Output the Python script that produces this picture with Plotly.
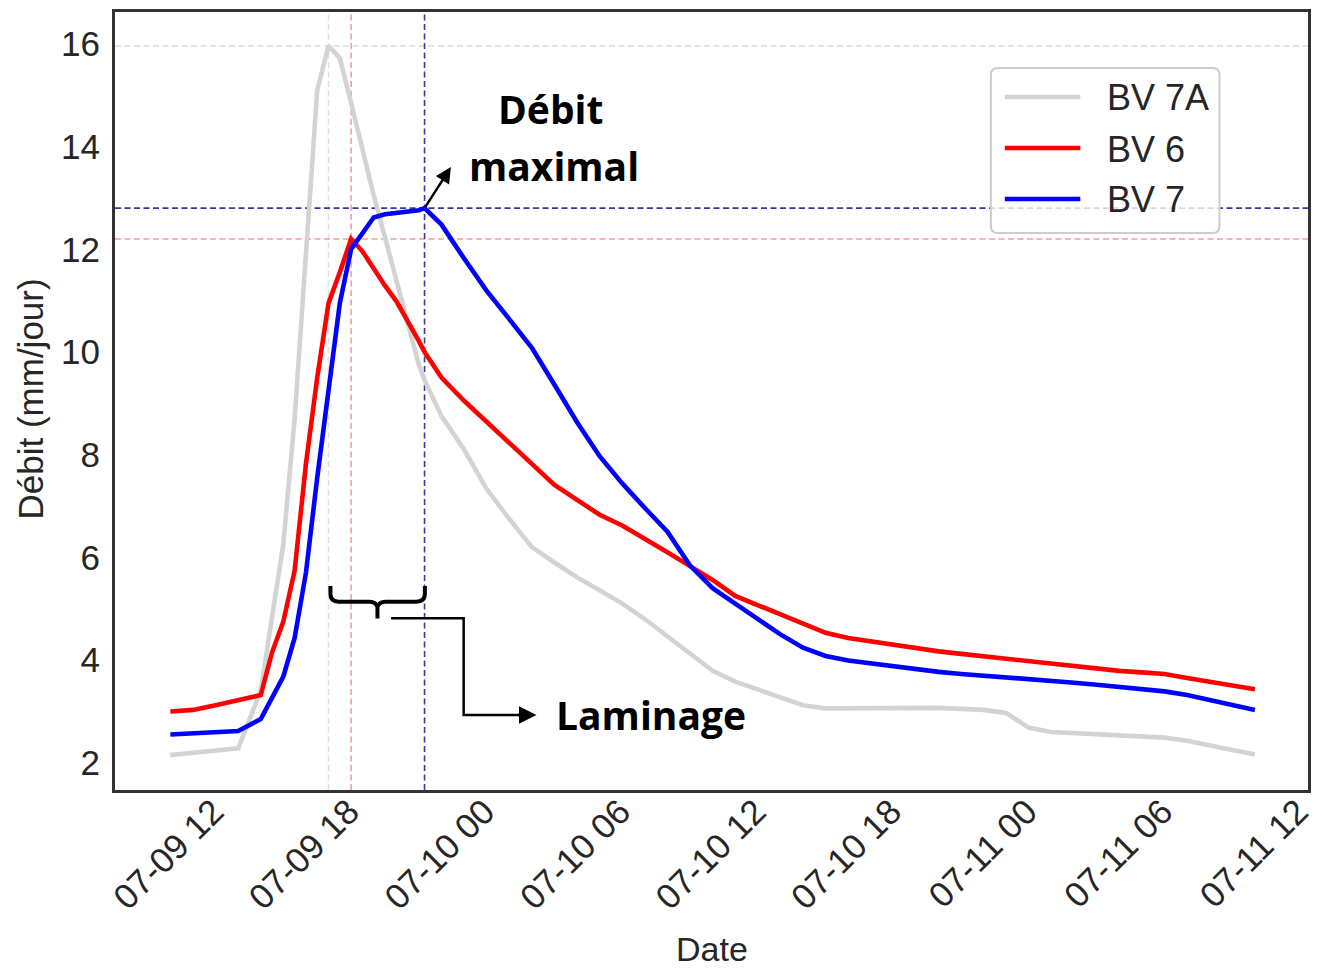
import plotly.graph_objects as go

# Discharge readings: hourly, half-hourly around the flood peak,
# plus the 23:15 reading at the BV 7 maximum
times = [
    "2021-07-09 12:00", "2021-07-09 13:00", "2021-07-09 14:00", "2021-07-09 15:00",
    "2021-07-09 16:00", "2021-07-09 16:30", "2021-07-09 17:00", "2021-07-09 17:30",
    "2021-07-09 18:00", "2021-07-09 18:30", "2021-07-09 19:00", "2021-07-09 19:30",
    "2021-07-09 20:00", "2021-07-09 20:30", "2021-07-09 21:00", "2021-07-09 21:30",
    "2021-07-09 22:00", "2021-07-09 22:30", "2021-07-09 23:00", "2021-07-09 23:15",
    "2021-07-10 00:00", "2021-07-10 01:00", "2021-07-10 02:00", "2021-07-10 03:00",
    "2021-07-10 04:00", "2021-07-10 05:00", "2021-07-10 06:00", "2021-07-10 07:00",
    "2021-07-10 08:00", "2021-07-10 09:00", "2021-07-10 10:00", "2021-07-10 11:00",
    "2021-07-10 12:00", "2021-07-10 13:00", "2021-07-10 14:00", "2021-07-10 15:00",
    "2021-07-10 16:00", "2021-07-10 17:00", "2021-07-10 18:00", "2021-07-10 19:00",
    "2021-07-10 20:00", "2021-07-10 21:00", "2021-07-10 22:00", "2021-07-10 23:00",
    "2021-07-11 00:00", "2021-07-11 01:00", "2021-07-11 02:00", "2021-07-11 03:00",
    "2021-07-11 04:00", "2021-07-11 05:00", "2021-07-11 06:00", "2021-07-11 07:00",
    "2021-07-11 08:00", "2021-07-11 09:00", "2021-07-11 10:00", "2021-07-11 11:00",
    "2021-07-11 12:00",
]

bv7a = [2.15, 2.19, 2.23, 2.28,
        3.40, 4.84, 6.26, 8.70, 12.00, 15.10, 15.96, 15.72,
        14.85, 13.93, 13.05, 12.23, 11.40, 10.50, 9.75, 9.45,
        8.75, 8.10, 7.33, 6.75, 6.20, 5.90, 5.61, 5.36,
        5.10, 4.80, 4.46, 4.13, 3.79, 3.58, 3.43, 3.28,
        3.12, 3.06, 3.06, 3.07, 3.08, 3.08, 3.07, 3.05,
        3.03, 2.97, 2.68, 2.60, 2.58, 2.56, 2.54, 2.52,
        2.49, 2.43, 2.35, 2.25, 2.16]

bv6 = [3.00, 3.03, 3.12, 3.22,
       3.32, 4.15, 4.75, 5.74, 7.82, 9.50, 10.95, 11.55,
       12.20, 11.96, 11.61, 11.29, 10.99, 10.62, 10.21, 10.00,
       9.50, 9.05, 8.65, 8.25, 7.82, 7.41, 7.12, 6.83,
       6.62, 6.37, 6.10, 5.83, 5.56, 5.25, 5.07, 4.90,
       4.72, 4.53, 4.43, 4.36, 4.29, 4.23, 4.17, 4.12,
       4.07, 4.02, 3.97, 3.92, 3.87, 3.83, 3.79, 3.76,
       3.73, 3.65, 3.57, 3.49, 3.43]

bv7 = [2.55, 2.57, 2.59, 2.62,
       2.85, 3.26, 3.68, 4.43, 5.70, 7.55, 9.25, 10.95,
       12.00, 12.30, 12.62, 12.68, 12.70, 12.73, 12.76, 12.80,
       12.48, 11.82, 11.19, 10.64, 10.08, 9.36, 8.63, 7.97,
       7.44, 6.96, 6.50, 5.84, 5.40, 5.10, 4.80, 4.50,
       4.24, 4.08, 3.99, 3.93, 3.87, 3.81, 3.77, 3.73,
       3.70, 3.67, 3.64, 3.60, 3.56, 3.52, 3.48, 3.44,
       3.39, 3.32, 3.22, 3.12, 3.03]

series_names = ["BV 7A", "BV 6", "BV 7"]
series_values = [bv7a, bv6, bv7]
series_colors = ["#d3d3d3", "#ff0000", "#0000ff"]
peak_line_colors = ["rgba(200,200,200,0.55)", "rgba(225,80,80,0.55)", "rgba(0,0,139,0.78)"]

x_range = ["2021-07-09 09:33", "2021-07-11 14:21"]
y_range = [1.47, 16.62]
y_ticks = [2, 4, 6, 8, 10, 12, 14, 16]

TEXT = "#262626"
SANS = "Liberation Sans, Arial, sans-serif"
TICK_FONT = dict(family=SANS, size=35, color=TEXT)

# figure / plot-area geometry (pixels) used to place the decorations
W, H = 1322, 971
ML, MR, MT, MB = 115, 7, 12, 181
PW, PH = W - ML - MR, H - MT - MB


def px(x, y):
    """Pixel position -> paper coordinates string for shape paths."""
    return f"{(x - ML) / PW:.5f},{(H - MB - y) / PH:.5f}"


def pxx(x):
    return (x - ML) / PW


def pxy(y):
    return (H - MB - y) / PH


fig = go.Figure()

for name, vals, col in zip(series_names, series_values, series_colors):
    fig.add_trace(go.Scatter(x=times, y=vals, mode="lines", name=name,
                             line=dict(color=col, width=4.6, shape="linear"),
                             showlegend=False))

# Peak markers: vertical line at time of maximum, horizontal line at maximum value
shapes = []
peak_times = []
for vals, pc in zip(series_values, peak_line_colors):
    i = max(range(len(vals)), key=lambda k: vals[k])
    peak_times.append(times[i])
    shapes.append(dict(type="line", xref="x", yref="paper", x0=times[i], x1=times[i],
                       y0=0, y1=1, layer="below",
                       line=dict(color=pc, width=1.6, dash="6px,3.5px")))
    shapes.append(dict(type="line", xref="paper", yref="y", x0=0, x1=1,
                       y0=vals[i], y1=vals[i], layer="below",
                       line=dict(color=pc, width=1.6, dash="6px,3.5px")))

# Curly brace spanning the two peak times
brace_path = (
    f"M {px(331.7, 586)} L {px(331.7, 594)} Q {px(331.7, 601.7)} {px(340, 601.7)} "
    f"L {px(371, 601.7)} Q {px(377.5, 601.7)} {px(379, 607)} L {px(379, 618.5)} "
    f"M {px(379, 607)} Q {px(380.5, 601.7)} {px(387, 601.7)} "
    f"L {px(418, 601.7)} Q {px(426.7, 601.7)} {px(426.7, 594)} L {px(426.7, 586)}"
)
shapes.append(dict(type="path", xref="paper", yref="paper", path=brace_path,
                   line=dict(color="black", width=4)))
# Leader line towards the "Laminage" label
shapes.append(dict(type="path", xref="paper", yref="paper",
                   path=f"M {px(392.7, 618.3)} L {px(465.7, 618.3)} L {px(465.7, 715)} L {px(525, 715)}",
                   line=dict(color="black", width=2.5)))

# Legend box (semi-transparent, rounded corners)
lx0, lx1, ly0, ly1 = 996, 1226, 233, 68
r = 7
legend_path = (
    f"M {px(lx0 + r, ly1)} L {px(lx1 - r, ly1)} Q {px(lx1, ly1)} {px(lx1, ly1 + r)} "
    f"L {px(lx1, ly0 - r)} Q {px(lx1, ly0)} {px(lx1 - r, ly0)} "
    f"L {px(lx0 + r, ly0)} Q {px(lx0, ly0)} {px(lx0, ly0 - r)} "
    f"L {px(lx0, ly1 + r)} Q {px(lx0, ly1)} {px(lx0 + r, ly1)} Z"
)
shapes.append(dict(type="path", xref="paper", yref="paper", path=legend_path, layer="above",
                   fillcolor="rgba(255,255,255,0.8)", line=dict(color="#cccccc", width=2)))
legend_rows = [97, 148, 199]
annotations = []
for name, col, yy in zip(series_names, series_colors, legend_rows):
    shapes.append(dict(type="line", xref="paper", yref="paper", x0=pxx(1010), x1=pxx(1086),
                       y0=pxy(yy), y1=pxy(yy), layer="above", line=dict(color=col, width=4.6)))
    annotations.append(dict(xref="paper", yref="paper", x=pxx(1111), y=pxy(yy + 1), text=name,
                            showarrow=False, xanchor="left", yanchor="middle",
                            font=dict(family=SANS, size=36, color=TEXT)))

BOLD = dict(family="Open Sans, sans-serif", size=39, color="black")
annotations += [
    dict(xref="paper", yref="paper", x=pxx(553), y=pxy(108), text="<b>Débit</b>",
         showarrow=False, xanchor="center", yanchor="middle", font=BOLD),
    dict(xref="paper", yref="paper", x=pxx(557), y=pxy(165), text="<b>maximal</b>",
         showarrow=False, xanchor="center", yanchor="middle", font=BOLD),
    dict(xref="paper", yref="paper", x=pxx(654), y=pxy(714), text="<b>Laminage</b>",
         showarrow=False, xanchor="center", yanchor="middle", font=BOLD),
    # arrow from the BV 7 peak towards "Débit maximal"
    dict(xref="x", yref="y", x="2021-07-10 00:25", y=13.6, axref="x", ayref="y",
         ax=peak_times[2], ay=max(bv7), text="", showarrow=True,
         arrowhead=2, arrowsize=1.3, arrowwidth=2.4, arrowcolor="black"),
    # arrow head pointing at "Laminage"
    dict(xref="paper", yref="paper", x=pxx(539), y=pxy(715), axref="pixel", ayref="pixel",
         ax=-20, ay=0, text="", showarrow=True,
         arrowhead=2, arrowsize=1.4, arrowwidth=2.5, arrowcolor="black"),
    # axis titles
    dict(xref="paper", yref="paper", x=pxx(30), y=pxy(399), text="Débit (mm/jour)",
         textangle=-90, showarrow=False, xanchor="center", yanchor="middle",
         font=dict(family=SANS, size=35, color=TEXT)),
    dict(xref="paper", yref="paper", x=pxx(716), y=pxy(969), text="Date",
         showarrow=False, xanchor="center", yanchor="bottom", borderpad=0,
         font=dict(family=SANS, size=34, color=TEXT)),
]

fig.update_layout(
    width=W, height=H,
    margin=dict(l=ML, r=MR, t=MT, b=MB),
    paper_bgcolor="white", plot_bgcolor="white",
    shapes=shapes, annotations=annotations,
    showlegend=False,
)
fig.update_xaxes(
    type="date", range=x_range,
    tick0="2021-07-09 12:00", dtick=6 * 3600 * 1000, tickformat="%m-%d %H",
    tickangle=-45, tickfont=TICK_FONT, ticklabelshift=43, ticklabelstandoff=-16,
    ticklabeloverflow="allow",
    showgrid=False, zeroline=False, ticks="",
    showline=True, linecolor="#333333", linewidth=3, mirror=True,
)
fig.update_yaxes(
    range=y_range, tickvals=y_ticks, tickfont=TICK_FONT, ticklabelstandoff=5,
    showgrid=False, zeroline=False, ticks="",
    showline=True, linecolor="#333333", linewidth=3, mirror=True,
)

fig.write_html("out.html")
